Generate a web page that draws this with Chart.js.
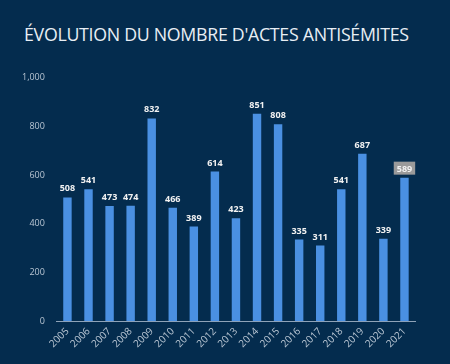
<!DOCTYPE html>
<html>
<head>
<meta charset="utf-8">
<script src="https://cdn.jsdelivr.net/npm/chart.js@4/dist/chart.umd.min.js"></script>
<style>
  html, body { margin: 0; padding: 0; background: #042c4e; }
  #wrap { position: relative; width: 450px; height: 364px; }
  h1 { position: absolute; left: 24px; top: 22px; margin: 0; white-space: nowrap; font-family: "Open Sans", sans-serif; font-weight: 400; font-size: 17.8px; color: #e8eef4; letter-spacing: -0.3px; }
  #box { position: absolute; left: 0; top: 60px; width: 450px; height: 304px; }
</style>
</head>
<body>
<div id="wrap">
  <h1>ÉVOLUTION DU NOMBRE D'ACTES ANTISÉMITES</h1>
  <div id="box"><canvas id="graf"></canvas></div>
</div>
<script>
const annees = ['2005','2006','2007','2008','2009','2010','2011','2012','2013','2014','2015','2016','2017','2018','2019','2020','2021'];
const actes = [508, 541, 473, 474, 832, 466, 389, 614, 423, 851, 808, 335, 311, 541, 687, 339, 589];
const ticksY = [0, 200, 400, 600, 800, 1000];
const anneeSurlignee = '2021';

// Étiquettes de valeur au-dessus des barres
const etiquettes = {
  id: 'etiquettes',
  afterDatasetsDraw(chart) {
    const ctx = chart.ctx;
    const meta = chart.getDatasetMeta(0);
    ctx.save();
    ctx.font = 'bold 9px "Open Sans", sans-serif';
    ctx.textAlign = 'center';
    ctx.textBaseline = 'bottom';
    meta.data.forEach((bar, i) => {
      const txt = String(actes[i]);
      const y = bar.y - 4;
      if (annees[i] === anneeSurlignee) {
        const w = ctx.measureText(txt).width + 6;
        ctx.fillStyle = '#9a9a9a';
        ctx.fillRect(bar.x - w / 2, y - 12, w, 13);
      }
      ctx.fillStyle = '#f2f2f2';
      ctx.fillText(txt, bar.x, y);
    });
    ctx.restore();
  }
};

new Chart(document.getElementById('graf').getContext('2d'), {
  type: 'bar',
  data: {
    labels: annees,
    datasets: [{
      data: actes,
      backgroundColor: '#4a90e2',
      barPercentage: 0.4,
      categoryPercentage: 1
    }]
  },
  options: {
    responsive: true,
    maintainAspectRatio: false,
    animation: false,
    layout: { padding: { left: 10, right: 35, top: 10, bottom: 10 } },
    plugins: { legend: { display: false }, tooltip: { enabled: false } },
    scales: {
      x: {
        grid: { display: false, drawTicks: false },
        border: { color: '#8fa3b8', width: 1 },
        ticks: { color: '#b9c6d3', font: { family: 'Open Sans', size: 10 }, autoSkip: false, maxRotation: 45, minRotation: 45, padding: 4 }
      },
      y: {
        min: 0, max: 1000,
        afterBuildTicks: (axis) => { axis.ticks = ticksY.map(v => ({ value: v })); },
        grid: { display: false, drawTicks: false },
        border: { display: false },
        ticks: {
          color: '#b9c6d3', font: { family: 'Open Sans', size: 9 }, padding: 12,
          callback: (v) => v.toLocaleString('en-US')
        }
      }
    }
  },
  plugins: [etiquettes]
});
</script>
</body>
</html>
